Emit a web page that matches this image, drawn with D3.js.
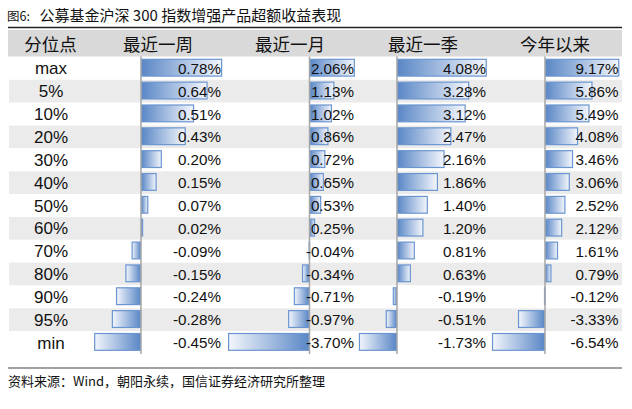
<!DOCTYPE html>
<html><head><meta charset="utf-8">
<script src="https://cdnjs.cloudflare.com/ajax/libs/d3/7.8.5/d3.min.js"></script>
<style>
html,body{margin:0;padding:0;background:#fff;}
svg{display:block;}
</style></head>
<body>
<script>
// ---- data ----
const titlePrefix = "图6:";
const title = "公募基金沪深 300 指数增强产品超额收益表现";
const source = "资料来源：Wind，朝阳永续，国信证券经济研究所整理";
const headers = ["分位点", "最近一周", "最近一月", "最近一季", "今年以来"];
const categories = ["max","5%","10%","20%","30%","40%","50%","60%","70%","80%","90%","95%","min"];
const week   = [0.78,0.64,0.51,0.43,0.20,0.15,0.07,0.02,-0.09,-0.15,-0.24,-0.28,-0.45];
const month  = [2.06,1.13,1.02,0.86,0.72,0.65,0.53,0.25,-0.04,-0.34,-0.71,-0.97,-3.70];
const season = [4.08,3.28,3.12,2.47,2.16,1.86,1.40,1.20,0.81,0.63,-0.19,-0.51,-1.73];
const ytd    = [9.17,5.86,5.49,4.08,3.46,3.06,2.52,2.12,1.61,0.79,-0.12,-3.33,-6.54];

// ---- layout ----
const W = 632, H = 409;
const tableLeft = 8, tableRight = 622;
const headerTop = 30, headerBottom = 56.5;
const rowTop = 57, rowH = 22.85;
const headerX = [50.5, 158, 290, 423, 555];
const cjk = "'Noto Sans CJK SC','Noto Sans',sans-serif";
const lat = "'Liberation Sans',Arial,sans-serif";

// columns: axis position, px per unit, right edge of labels
const cols = [
  {values: week,   axis: 141,   k: 104,  labelX: 221},
  {values: month,  axis: 309.5, k: 22,   labelX: 354},
  {values: season, axis: 397,   k: 22,   labelX: 486},
  {values: ytd,    axis: 545,   k: 8.1,  labelX: 618.5}
];
cols.forEach(c => {
  const lo = d3.min(c.values), hi = d3.max(c.values);
  c.x = d3.scaleLinear().domain([lo, hi]).range([c.axis + lo * c.k, c.axis + hi * c.k]);
});

const y = d3.scaleBand().domain(categories)
  .range([rowTop, rowTop + rowH * categories.length]).padding(0);

const svg = d3.select("body").append("svg").attr("width", W).attr("height", H);
svg.append("rect").attr("width", W).attr("height", H).attr("fill", "#fff");

const defs = svg.append("defs");
function grad(id, x1, x2) {
  const g = defs.append("linearGradient").attr("id", id)
    .attr("x1", x1).attr("x2", x2).attr("y1", 0).attr("y2", 0);
  g.append("stop").attr("offset", "0%").attr("stop-color", "#5a87c6");
  g.append("stop").attr("offset", "100%").attr("stop-color", "#f3f6fc");
}
grad("gpos", 0, 1);
grad("gneg", 1, 0);

// title
svg.append("text").attr("x", 7).attr("y", 20.5).attr("font-family", cjk)
  .attr("font-size", 12.5).attr("fill", "#111").text(titlePrefix);
svg.append("text").attr("x", 39.5).attr("y", 20.5).attr("font-family", cjk)
  .attr("font-size", 15).attr("fill", "#111").text(title);
svg.append("line").attr("x1", tableLeft).attr("x2", tableRight)
  .attr("y1", 27.5).attr("y2", 27.5).attr("stroke", "#222").attr("stroke-width", 1.5);

// header
svg.append("rect").attr("x", tableLeft).attr("y", headerTop)
  .attr("width", tableRight - tableLeft).attr("height", headerBottom - headerTop)
  .attr("fill", "#d9d9d9");
svg.selectAll("text.hdr").data(headers).join("text").attr("class", "hdr")
  .attr("x", (d, i) => headerX[i]).attr("y", 51)
  .attr("text-anchor", "middle").attr("font-family", cjk).attr("font-size", 17.5)
  .attr("fill", "#111").text(d => d);

// row bands
svg.selectAll("rect.band").data(categories).join("rect").attr("class", "band")
  .attr("x", tableLeft + 1).attr("y", d => y(d))
  .attr("width", tableRight - tableLeft - 1).attr("height", y.bandwidth())
  .attr("fill", (d, i) => i % 2 === 1 ? "#ebebeb" : "#ffffff");

// row labels
svg.selectAll("text.cat").data(categories).join("text").attr("class", "cat")
  .attr("x", 51).attr("y", d => y(d) + y.bandwidth() / 2 + 6)
  .attr("text-anchor", "middle").attr("font-family", lat).attr("font-size", 17)
  .attr("fill", "#111").text(d => d);

// bars
cols.forEach((c, ci) => {
  const g = svg.append("g");
  g.selectAll("rect").data(c.values).join("rect")
    .attr("x", d => Math.min(c.x(d), c.x(0)) + 0.5)
    .attr("y", (d, i) => y(categories[i]) + 2.3)
    .attr("width", d => Math.max(Math.abs(c.x(d) - c.x(0)) - 1, 0.5))
    .attr("height", 16.8)
    .attr("fill", d => d >= 0 ? "url(#gpos)" : "url(#gneg)")
    .attr("stroke", "#6b95d0").attr("stroke-width", 1.2);
  g.append("line").attr("x1", c.x(0)).attr("x2", c.x(0))
    .attr("y1", headerBottom).attr("y2", rowTop + rowH * categories.length)
    .attr("stroke", "#a6a6a6").attr("stroke-width", 1.5);
  g.selectAll("text").data(c.values).join("text")
    .attr("x", c.labelX).attr("y", (d, i) => y(categories[i]) + y.bandwidth() / 2 + 5.5)
    .attr("text-anchor", "end").attr("font-family", lat).attr("font-size", 15.2)
    .attr("fill", "#111").text(d => d.toFixed(2) + "%");
});

// bottom line and source
svg.append("line").attr("x1", tableLeft).attr("x2", tableRight)
  .attr("y1", 368).attr("y2", 368).attr("stroke", "#444").attr("stroke-width", 1.2);
svg.append("text").attr("x", 8).attr("y", 386).attr("font-family", cjk)
  .attr("font-size", 13).attr("fill", "#111").text(source);
</script>
</body></html>
